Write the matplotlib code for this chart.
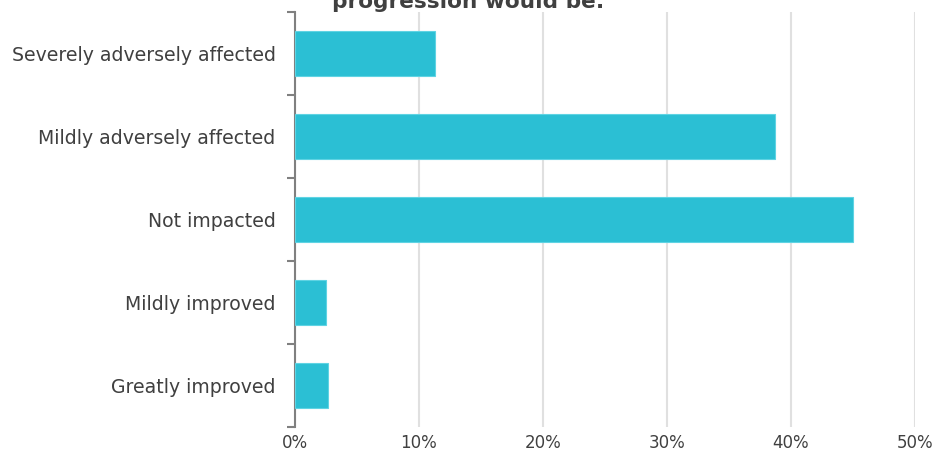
import matplotlib
matplotlib.use('Agg')
import matplotlib.pyplot as plt
import numpy as np

categories = ['Severely adversely affected', 'Mildly adversely affected', 'Not impacted',
              'Mildly improved', 'Greatly improved']
values = [11.3, 38.7, 45.0, 2.5, 2.7]
xticks = [0, 10, 20, 30, 40, 50]
title = 'progression would be:'

plt.rcParams['font.family'] = ['DejaVu Sans']
text_col = '#404040'

fig = plt.figure(figsize=(9.36, 4.62), dpi=100)
ax = fig.add_axes([295/936, 1-427/462, 620/936, 415/462])

y = np.arange(len(categories))[::-1]
ax.barh(y, values, height=0.55, color='#2bbfd4', edgecolor='#5fd3e3', linewidth=0.8, zorder=3)

ax.set_ylim(-0.5, len(categories) - 0.5)
ax.set_xlim(0, 50)
ax.set_xticks(xticks)
ax.set_xticklabels(['{}%'.format(t) for t in xticks], fontsize=12, color=text_col)
ax.grid(axis='x', color='#e0e0e0', linewidth=1.5, zorder=0)
ax.set_yticks(y)
ax.set_yticklabels(categories, fontsize=13.6, color=text_col)
ax.set_yticks(np.arange(-0.5, len(categories)), minor=True)
ax.tick_params(axis='y', which='major', length=0, pad=14)
ax.tick_params(axis='y', which='minor', length=6, color='#808080', width=1.5)
ax.tick_params(axis='x', length=0, pad=5)

for s in ['top', 'right', 'bottom']:
    ax.spines[s].set_visible(False)
ax.spines['left'].set_color('#808080')
ax.spines['left'].set_linewidth(1.5)

fig.text(0.5, 1 - 8/462, title, ha='center', va='baseline', fontsize=15.6,
         fontweight='bold', color=text_col)

plt.savefig('out.png', dpi=100)
